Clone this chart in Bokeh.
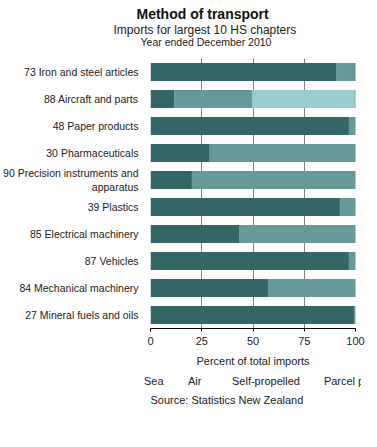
from bokeh.plotting import figure
from bokeh.models import ColumnDataSource, Legend, LegendItem, FactorRange, Title
from bokeh.layouts import column
from bokeh.embed import file_html
from bokeh.resources import INLINE

categories = [
    "73 Iron and steel articles",
    "88 Aircraft and parts",
    "48 Paper products",
    "30 Pharmaceuticals",
    "90 Precision instruments and\napparatus",
    "39 Plastics",
    "85 Electrical machinery",
    "87 Vehicles",
    "84 Mechanical machinery",
    "27 Mineral fuels and oils",
]
sea = [90.5, 11.5, 96.8, 28.9, 20.2, 92.4, 43.5, 96.8, 57.3, 99.6]
air = [9.1, 38.0, 2.9, 70.8, 79.5, 7.3, 56.2, 2.9, 42.4, 0.2]
self_propelled = [0.0, 50.2, 0.0, 0.0, 0.0, 0.0, 0.0, 0.0, 0.0, 0.0]
parcel_post = [0.4, 0.3, 0.3, 0.3, 0.3, 0.3, 0.3, 0.3, 0.3, 0.2]
series = ["Sea", "Air", "Self-propelled", "Parcel post"]
colors = ["#336666", "#669999", "#99CCCC", "#003333"]
x_ticks = [0, 25, 50, 75, 100]

FONT = "Liberation Sans"
TXT = "#222222"

src = ColumnDataSource(dict(cat=categories, Sea=sea, Air=air,
                            **{"Self-propelled": self_propelled, "Parcel post": parcel_post}))

p = figure(y_range=FactorRange(*reversed(categories)), x_range=(0, 100),
           frame_width=205, frame_height=270,
           min_border_left=10, min_border_right=15, min_border_top=0, min_border_bottom=0,
           output_backend="svg", toolbar_location=None, background_fill_color="white",
           border_fill_color="white", outline_line_color=None,
           title="Method of transport")
p.y_range.range_padding = 0

p.hbar_stack(series, y="cat", height=0.66, color=colors, line_color=None, source=src)

p.xaxis.ticker = x_ticks
p.xaxis.axis_label = "Percent of total imports"
p.xaxis.axis_label_text_font = FONT
p.xaxis.axis_label_text_font_size = "11px"
p.xaxis.axis_label_text_font_style = "normal"
p.xaxis.axis_label_text_color = TXT
p.xaxis.axis_label_standoff = 7
p.xaxis.major_label_text_font = FONT
p.xaxis.major_label_text_font_size = "11px"
p.xaxis.major_label_text_color = TXT
p.xaxis.major_label_standoff = 5
p.xaxis.major_tick_out = 3
p.xaxis.major_tick_in = 0
p.xaxis.minor_tick_line_color = None
p.xaxis.axis_line_color = "black"
p.xaxis.major_tick_line_color = "black"

p.yaxis.major_label_text_font = FONT
p.yaxis.major_label_text_font_size = "10.5px"
p.yaxis.major_label_text_color = TXT
p.yaxis.major_label_standoff = 6
p.yaxis.major_tick_line_color = None
p.yaxis.axis_line_color = None
p.yaxis.minor_tick_line_color = None

p.ygrid.grid_line_color = None
p.xgrid.ticker = x_ticks
p.xgrid.grid_line_color = "#808080"
p.xgrid.level = "underlay"

# title block (panels added first sit nearest the plot frame)
p.title.align = "left"
p.title.offset = -14
p.title.text_font = FONT
p.title.text_font_size = "14px"
p.title.text_font_style = "bold"
p.title.text_color = "#111111"
p.title.standoff = 6
p.add_layout(Title(text=" ", text_font_size="1px", standoff=7), "above")
p.add_layout(Title(text="Year ended December 2010", align="left", offset=-10,
                   text_font=FONT, text_font_size="10.5px", text_font_style="normal",
                   text_color=TXT, standoff=1), "above")
p.add_layout(Title(text="Imports for largest 10 HS chapters", align="left", offset=-37,
                   text_font=FONT, text_font_size="12px", text_font_style="normal",
                   text_color=TXT, standoff=-7), "above")

# legend strip and source note in a second, axis-free figure below
p2 = figure(x_range=(0, 1), y_range=(0, 1), frame_width=361, frame_height=18,
            min_border_left=0, min_border_right=0, min_border_top=0, min_border_bottom=0,
            x_axis_type=None, y_axis_type=None,
            output_backend="svg", toolbar_location=None, background_fill_color="white",
            border_fill_color="white", outline_line_color=None)
key_renderers = [p2.vbar(x=[], top=[], width=0.5, color=c, line_color=None) for c in colors]

legend = Legend(items=[LegendItem(label=s, renderers=[r]) for s, r in zip(series, key_renderers)],
                orientation="horizontal", location=(134, 0),
                label_text_font=FONT, label_text_font_size="11px", label_text_color=TXT,
                glyph_width=7, glyph_height=7, label_standoff=3, spacing=14,
                padding=2, margin=0, border_line_color=None, background_fill_alpha=0)
p2.add_layout(legend, "center")

p2.add_layout(Title(text="Source: Statistics New Zealand", align="left", offset=0,
                    text_font=FONT, text_font_size="11px", text_font_style="normal",
                    text_color=TXT, standoff=8), "below")

layout = column(p, p2, spacing=0)
open("out.html", "w").write(file_html(layout, INLINE))
